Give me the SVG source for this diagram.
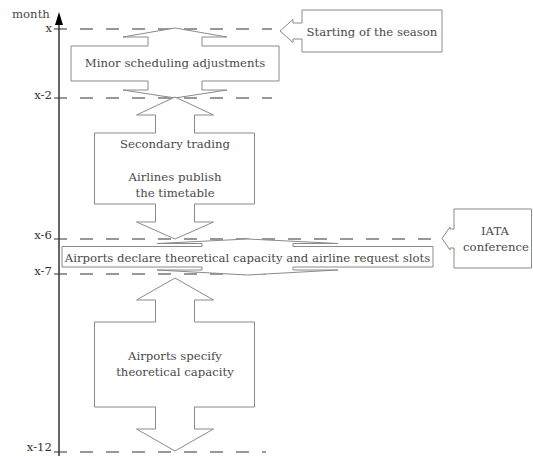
<svg xmlns="http://www.w3.org/2000/svg" width="533" height="456" viewBox="0 0 533 456">
<style>
  text { font-family: "DejaVu Serif", "Liberation Serif", serif; font-size: 11.7px; fill: #4a4a4a; }
  .lbl { fill: #333; text-anchor: end; }
  .c { text-anchor: middle; }
  .shape { fill: #ffffff; stroke: #8a8a8a; stroke-width: 1; }
  .dash { stroke: #333; stroke-width: 1.1; stroke-dasharray: 13 13; fill: none; }
</style>
<rect width="533" height="456" fill="#ffffff"/>
<g id="axis">
  <line x1="59" y1="456" x2="59" y2="22" stroke="#000" stroke-width="1.2"/>
  <polygon points="59,12 55,25 63,25" fill="#000"/>
  <text x="12" y="17.5">month</text>
</g>
<g id="connectors">
  <path class="dash" d="M54,29 H272"/>
  <path class="dash" d="M54,98 H272"/>
  <path class="dash" d="M54,239 H434"/>
  <path class="dash" d="M54,274 H266"/>
  <path class="dash" d="M54,452 H266"/>
</g>
<g id="ticks">
  <text class="lbl" x="52" y="32">x</text>
  <text class="lbl" x="52" y="99">x-2</text>
  <text class="lbl" x="52" y="239">x-6</text>
  <text class="lbl" x="52" y="275">x-7</text>
  <text class="lbl" x="52" y="451">x-12</text>
</g>
<g id="minor">
  <path class="shape" d="M175,28 L227,37 L202,37 L202,46 L279,46 L279,81 L202,81 L202,90 L227,90 L175,98 L123,90 L148,90 L148,81 L71,81 L71,46 L148,46 L148,37 L123,37 Z"/>
  <text class="c" x="175" y="67">Minor scheduling adjustments</text>
</g>
<g id="secondary">
  <path class="shape" d="M175,97 L213.5,115 L194.5,115 L194.5,133 L254.5,133 L254.5,204 L194.5,204 L194.5,222 L213.5,222 L175,239 L136.5,222 L155.5,222 L155.5,204 L94.5,204 L94.5,133 L155.5,133 L155.5,115 L136.5,115 Z"/>
  <text class="c" x="175" y="147.5">Secondary trading</text>
  <text class="c" x="175" y="180.5">Airlines publish</text>
  <text class="c" x="175" y="197">the timetable</text>
</g>
<g id="declare">
  <path class="shape" d="M247.5,239 L338,243.5 L293,243.5 L293,246.5 L433,246.5 L433,267 L293,267 L293,270 L338,270 L247.5,275 L157,270 L202,270 L202,267 L62,267 L62,246.5 L202,246.5 L202,243.5 L157,243.5 Z"/>
  <text class="c" x="247.5" y="261.5">Airports declare theoretical capacity and airline request slots</text>
</g>
<g id="specify">
  <path class="shape" d="M175,278 L213.5,300 L194.5,300 L194.5,322 L254.5,322 L254.5,407 L194.5,407 L194.5,429 L213.5,429 L175,451 L136.5,429 L155.5,429 L155.5,407 L94.5,407 L94.5,322 L155.5,322 L155.5,300 L136.5,300 Z"/>
  <text class="c" x="175" y="360">Airports specify</text>
  <text class="c" x="175" y="375.5">theoretical capacity</text>
</g>
<g id="season">
  <path class="shape" d="M280,31 L293,19.5 L293,23 L302,23 L302,10 L442,10 L442,52 L302,52 L302,39 L293,39 L293,42.5 Z"/>
  <text class="c" x="372" y="36">Starting of the season</text>
</g>
<g id="iata">
  <path class="shape" d="M442,238.5 L450,227 L450,229 L454,229 L454,209 L531.5,209 L531.5,268 L454,268 L454,248 L450,248 L450,250 Z"/>
  <text class="c" x="495" y="235">IATA</text>
  <text class="c" x="496" y="251">conference</text>
</g>
</svg>
